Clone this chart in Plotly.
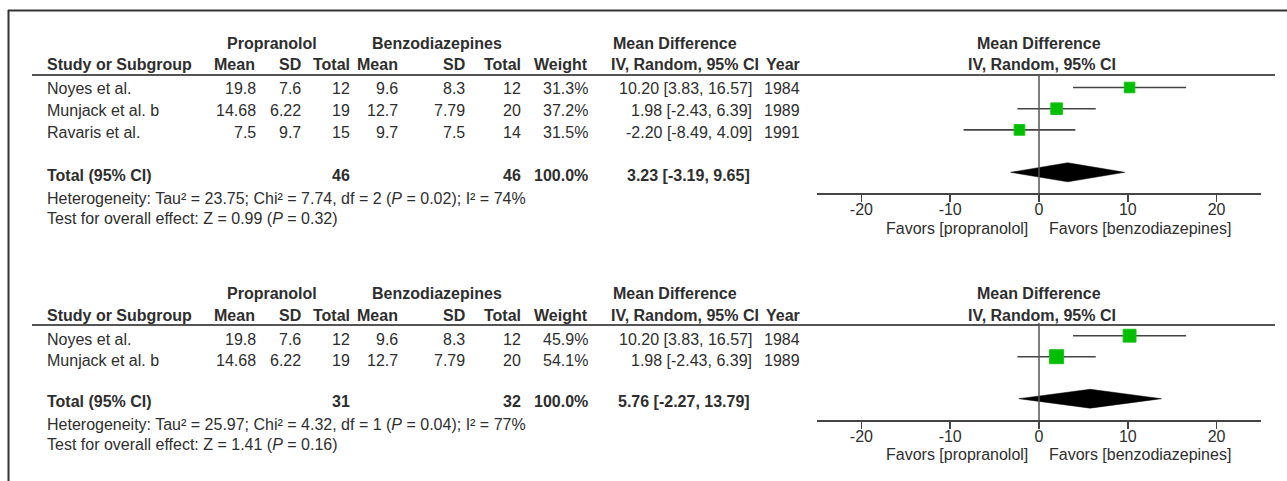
import plotly.graph_objects as go

W, H = 1287, 481

# ---------------- data ----------------
studies = ["Noyes et al.", "Munjack et al. b", "Ravaris et al."]
prop_mean = [19.8, 14.68, 7.5]
prop_sd = [7.6, 6.22, 9.7]
prop_n = [12, 19, 15]
benz_mean = [9.6, 12.7, 9.7]
benz_sd = [8.3, 7.79, 7.5]
benz_n = [12, 20, 14]
years = [1984, 1989, 1991]
md = [10.20, 1.98, -2.20]
ci_lo = [3.83, -2.43, -8.49]
ci_hi = [16.57, 6.39, 4.09]

# panel 1: all three studies; panel 2: first two studies
panel_n_studies = [3, 2]
panel_weights = [[31.3, 37.2, 31.5], [45.9, 54.1]]
panel_total_prop = [46, 31]
panel_total_benz = [46, 32]
panel_total_md = [3.23, 5.76]
panel_total_lo = [-3.19, -2.27]
panel_total_hi = [9.65, 13.79]
panel_het = [
    "Heterogeneity: Tau² = 23.75; Chi² = 7.74, df = 2 (<i>P</i> = 0.02); I² = 74%",
    "Heterogeneity: Tau² = 25.97; Chi² = 4.32, df = 1 (<i>P</i> = 0.04); I² = 77%",
]
panel_test = [
    "Test for overall effect: Z = 0.99 (<i>P</i> = 0.32)",
    "Test for overall effect: Z = 1.41 (<i>P</i> = 0.16)",
]
tick_vals = [-20, -10, 0, 10, 20]
tick_text = ["-20", "-10", "0", "10", "20"]

# ---------------- style ----------------
FONT = "Liberation Sans, Arial, Helvetica, sans-serif"
TXT = "#2e2e2e"
FS = 16
GREEN = "#00bf00"
LINE = "#444444"

# pixel layout per panel
panel_offset = [0, 250]          # header / study rows shift
panel_offset_low = [0, 226]      # totals / stats / axis shift
row_px = [89, 110.5, 132.5]
head1_px, head2_px, uline_px = 43.5, 65, 75
total_px, het_px, test_px = 175.5, 198, 218.5
axis_px, favors_px = 193, 228

col_right = dict(pm=258, psd=303, pn=352, bm=400, bsd=467, bn=523, w=590, ci=754, yr=802)

fig = go.Figure()
ann = []
shapes = []


def px2y(py):
    return 1 - py / H


def px2x(px):
    return px / W


def add_text(txt, px, py, anchor="left", bold=False, size=FS):
    if bold:
        txt = "<b>" + txt + "</b>"
    ann.append(dict(text=txt, x=px2x(px), y=px2y(py), xref="paper", yref="paper",
                    xanchor=anchor, yanchor="middle", showarrow=False,
                    font=dict(family=FONT, size=size, color=TXT)))


xdom = [817 / W, 1261 / W]

for p in range(2):
    n = panel_n_studies[p]
    o = panel_offset[p]
    ol = panel_offset_low[p]
    xa = "x" if p == 0 else "x2"
    ya = "y" if p == 0 else "y2"

    # headers
    add_text("Propranolol", 271.5, head1_px + o, "center", True)
    add_text("Benzodiazepines", 436.5, head1_px + o, "center", True)
    add_text("Mean Difference", 611, head1_px + o, "left", True)
    add_text("Study or Subgroup", 45, head2_px + o, "left", True)
    for key, lab in [("pm", "Mean"), ("psd", "SD"), ("pn", "Total"), ("bm", "Mean"),
                     ("bsd", "SD"), ("bn", "Total"), ("w", "Weight")]:
        add_text(lab, col_right[key] - (1 if key == "pm" else 0), head2_px + o, "right", True)
    add_text("IV, Random, 95% CI", 761, head2_px + o, "right", True)
    add_text("Year", 802, head2_px + o, "right", True)

    # forest headers
    ann.append(dict(text="<b>Mean Difference</b>", x=0, xref=xa, y=px2y(head1_px + o), yref="paper",
                    xanchor="center", yanchor="middle", showarrow=False,
                    font=dict(family=FONT, size=FS, color=TXT)))
    ann.append(dict(text="<b>IV, Random, 95% CI</b>", x=0, xref=xa, y=px2y(head2_px + o), yref="paper",
                    xanchor="center", yanchor="middle", showarrow=False, xshift=3,
                    font=dict(family=FONT, size=FS, color=TXT)))

    # header underline
    shapes.append(dict(type="line", xref="paper", yref="paper", x0=px2x(32), x1=px2x(1275),
                       y0=px2y(uline_px + o), y1=px2y(uline_px + o),
                       line=dict(color="#555555", width=2)))

    # study rows
    for i in range(n):
        py = row_px[i] + o
        add_text(studies[i], 45, py)
        add_text(str(prop_mean[i]), col_right["pm"], py, "right")
        add_text(str(prop_sd[i]), col_right["psd"], py, "right")
        add_text(str(prop_n[i]), col_right["pn"], py, "right")
        add_text(str(benz_mean[i]), col_right["bm"], py, "right")
        add_text(str(benz_sd[i]), col_right["bsd"], py, "right")
        add_text(str(benz_n[i]), col_right["bn"], py, "right")
        add_text(f"{panel_weights[p][i]:.1f}%", col_right["w"], py, "right")
        add_text(f"{md[i]:.2f} [{ci_lo[i]:.2f}, {ci_hi[i]:.2f}]", col_right["ci"], py, "right")
        add_text(str(years[i]), col_right["yr"], py, "right")

    # totals
    add_text("Total (95% CI)", 45, total_px + ol, "left", True)
    add_text(str(panel_total_prop[p]), col_right["pn"], total_px + ol, "right", True)
    add_text(str(panel_total_benz[p]), col_right["bn"], total_px + ol, "right", True)
    add_text("100.0%", col_right["w"], total_px + ol, "right", True)
    add_text(f"{panel_total_md[p]:.2f} [{panel_total_lo[p]:.2f}, {panel_total_hi[p]:.2f}]",
             col_right["ci"] - 2, total_px + ol, "right", True)
    add_text(panel_het[p], 45, het_px + ol)
    add_text(panel_test[p], 45, test_px + ol)

    # favors labels
    for txt, anc, sh in [("Favors [propranolol]", "right", -9), ("Favors [benzodiazepines]", "left", 8)]:
        ann.append(dict(text=txt, x=0, xref=xa, y=px2y(favors_px + ol), yref="paper",
                        xanchor=anc, yanchor="middle", showarrow=False, xshift=sh,
                        font=dict(family=FONT, size=FS, color=TXT)))

    # study markers with CIs
    rows = list(range(n))
    xs = md[:n]
    sizes = [1.9 * (w ** 0.5) for w in panel_weights[p]]
    fig.add_trace(go.Scatter(
        x=xs, y=rows, mode="markers", xaxis=xa, yaxis=ya, showlegend=False, hoverinfo="skip",
        marker=dict(symbol="square", size=sizes, color=GREEN, opacity=1,
                    line=dict(color="#19c419", width=1)),
        error_x=dict(type="data", symmetric=False,
                     array=[ci_hi[i] - md[i] for i in range(n)],
                     arrayminus=[md[i] - ci_lo[i] for i in range(n)],
                     width=0, thickness=1.6, color=LINE)))

    # pooled diamond
    tr = n + 1
    hh = 0.45
    fig.add_trace(go.Scatter(
        x=[panel_total_lo[p], panel_total_md[p], panel_total_hi[p], panel_total_md[p], panel_total_lo[p]],
        y=[tr, tr - hh, tr, tr + hh, tr], mode="lines", fill="toself", fillcolor="black",
        line=dict(color="black", width=0.5), xaxis=xa, yaxis=ya, showlegend=False, hoverinfo="skip"))

    # zero reference line
    shapes.append(dict(type="line", xref=xa, yref=f"{ya} domain", x0=0, x1=0, y0=0, y1=1,
                       line=dict(color="#555555", width=1.5)))

# border
shapes.append(dict(type="line", xref="paper", yref="paper", x0=px2x(8), x1=1, y0=px2y(10.5), y1=px2y(10.5),
                   line=dict(color="#333333", width=2)))
shapes.append(dict(type="line", xref="paper", yref="paper", x0=px2x(8.5), x1=px2x(8.5), y0=0, y1=px2y(10),
                   line=dict(color="#333333", width=2)))

# y axes (row units), domains placed so row 0 sits at first study row
top_rows = (87.5, 21.2)     # py of row 0, px per row
bot_rows = (335.7, 21.0)


def yax(rowinfo, top_px, bot_px):
    r0, step = rowinfo
    return dict(domain=[px2y(bot_px), px2y(top_px)],
                range=[(bot_px - r0) / step, (top_px - r0) / step],
                visible=False, showgrid=False, zeroline=False)


xbase = dict(domain=xdom, range=[-25, 25], showgrid=False, zeroline=False, showline=True,
             linecolor=LINE, linewidth=1.5, ticks="outside", ticklen=7, tickwidth=1.5,
             tickcolor=LINE, tickvals=tick_vals, ticktext=tick_text, ticklabelstandoff=-6,
             tickfont=dict(family=FONT, size=FS, color=TXT), fixedrange=True)
xover = dict(range=[-25, 25], showgrid=False, zeroline=False, showline=False,
             ticks="inside", ticklen=5, tickwidth=1.5, tickcolor=LINE, tickvals=tick_vals,
             showticklabels=False)

fig.update_layout(
    width=W, height=H, margin=dict(l=0, r=0, t=0, b=0),
    paper_bgcolor="white", plot_bgcolor="rgba(0,0,0,0)",
    xaxis=dict(anchor="y", **xbase),
    xaxis2=dict(anchor="y2", **xbase),
    xaxis3=dict(overlaying="x", anchor="y", **xover),
    xaxis4=dict(overlaying="x2", anchor="y2", **xover),
    yaxis=yax(top_rows, 75, 193),
    yaxis2=yax(bot_rows, 323, 420),
    annotations=ann, shapes=shapes, showlegend=False,
)

fig.write_html("out.html", config={"displayModeBar": False, "staticPlot": True},
               post_script="document.body.style.margin='0';document.body.style.overflow='hidden';")
